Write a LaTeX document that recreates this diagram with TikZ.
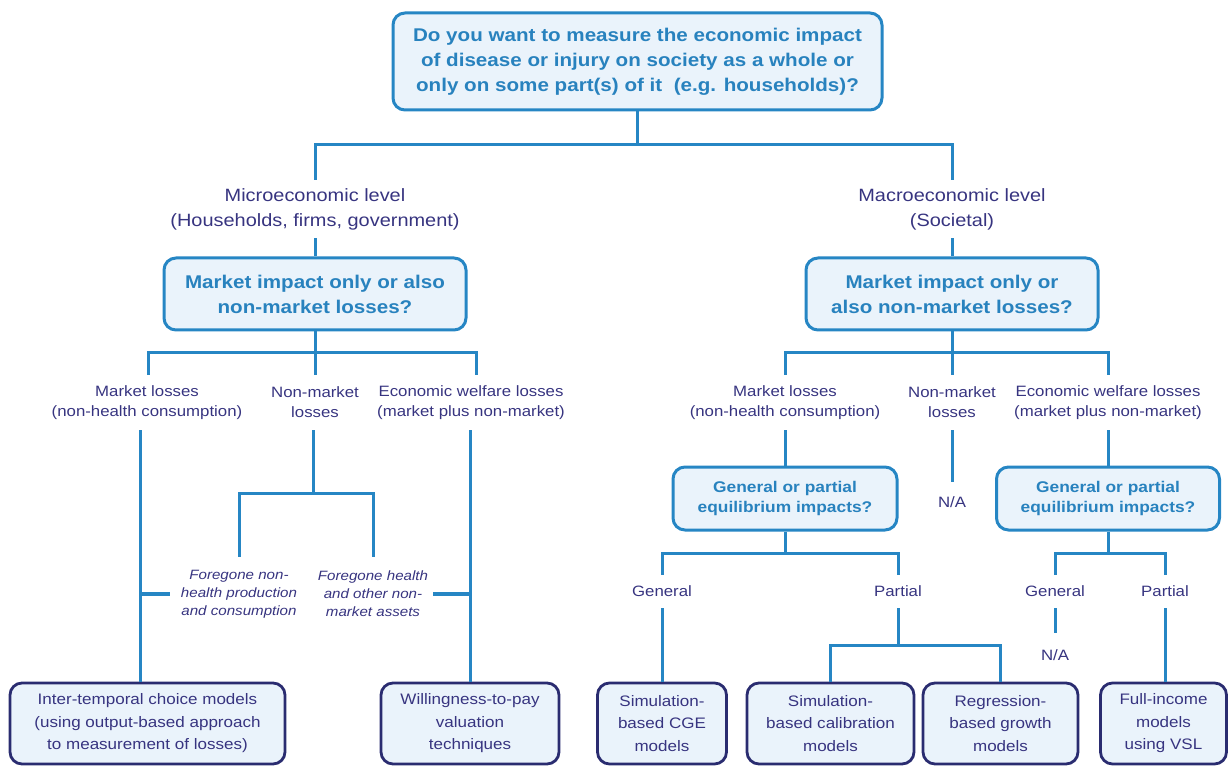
\documentclass[tikz,border=0pt]{standalone}
\usepackage{fontspec}
\setmainfont{Liberation Sans}[FakeStretch=1.12]
\definecolor{lblue}{RGB}{38,134,196}
\definecolor{qtext}{RGB}{40,130,190}
\definecolor{navy}{RGB}{55,52,128}
\definecolor{bnavy}{RGB}{42,44,112}
\definecolor{fillb}{RGB}{234,243,251}
\tikzset{
  qbox/.style={draw=lblue, line width=3pt, rounded corners=12pt, fill=fillb, text=qtext,
    font=\bfseries\fontsize{18.4}{25}\selectfont, align=center, inner sep=0pt},
  gbox/.style={qbox, font=\bfseries\fontsize{15.5}{19.5}\selectfont},
  mbox/.style={draw=bnavy, line width=2.8pt, rounded corners=12pt, fill=fillb, text=navy,
    font=\fontsize{15.2}{22.5}\selectfont, align=center, inner sep=0pt, minimum height=81pt},
  biglbl/.style={text=navy, font=\fontsize{17.8}{25}\selectfont, align=center, inner sep=0pt},
  lbl/.style={text=navy, font=\fontsize{15}{20}\selectfont, align=center, inner sep=0pt},
  ital/.style={text=navy, font=\itshape\fontsize{13.5}{18}\selectfont, align=center, inner sep=0pt},
  conn/.style={draw=lblue, line width=3pt},
  stub/.style={draw=lblue, line width=4pt}
}
\begin{document}
\begin{tikzpicture}[x=1pt,y=-1pt]
\useasboundingbox (0,0) rectangle (1229,767);
% top question
\node[qbox, minimum width=489pt, minimum height=97pt] (top) at (637.5,61.5)
  {Do you want to measure the economic impact\\of disease or injury on society as a whole or\\only on some part(s) of it\ \ (e.g. households)?};
% levels
\node[biglbl, minimum height=58pt] (micro) at (315,209) {Microeconomic level\\(Households, firms, government)};
\node[biglbl, minimum height=58pt] (macro) at (952,209) {Macroeconomic level\\(Societal)};
\node[qbox, minimum width=302pt, minimum height=72pt] (mq) at (315,294) {Market impact only or also\\non-market losses?};
\node[qbox, minimum width=292pt, minimum height=72pt] (Mq) at (952,294) {Market impact only or\\also non-market losses?};
% loss labels
\node[lbl, minimum height=55pt] (ml) at (147,402.5) {Market losses\\(non-health consumption)};
\node[lbl, minimum height=55pt] (mn) at (315,402.5) {Non-market\\losses};
\node[lbl, minimum height=55pt] (mw) at (471,402.5) {Economic welfare losses\\(market plus non-market)};
\node[lbl, minimum height=55pt] (Ml) at (785,402.5) {Market losses\\(non-health consumption)};
\node[lbl, minimum height=55pt] (Mn) at (952,402.5) {Non-market\\losses};
\node[lbl, minimum height=55pt] (Mw) at (1108,402.5) {Economic welfare losses\\(market plus non-market)};
% foregone
\node[ital, minimum height=74pt, minimum width=138pt] (f1) at (239,594) {Foregone non-\\health production\\and consumption};
\node[ital, minimum height=74pt, minimum width=120pt] (f2) at (373,594) {Foregone health\\and other non-\\market assets};
% equilibrium questions
\node[gbox, minimum width=224pt, minimum height=63pt] (g1) at (785,498.5) {General or partial\\equilibrium impacts?};
\node[gbox, minimum width=223pt, minimum height=63pt] (g2) at (1108,498.5) {General or partial\\equilibrium impacts?};
\node[lbl, minimum height=40pt] (na1) at (952,502) {N/A};
\node[lbl, minimum height=33pt] (ge1) at (662,591.5) {General};
\node[lbl, minimum height=33pt] (pa1) at (898,591.5) {Partial};
\node[lbl, minimum height=33pt] (ge2) at (1055,591.5) {General};
\node[lbl, minimum height=33pt] (pa2) at (1165,591.5) {Partial};
\node[lbl, minimum height=44pt] (na2) at (1055,655) {N/A};
% bottom models
\node[mbox, minimum width=275pt] (b1) at (147.5,723.5) {Inter-temporal choice models\\(using output-based approach\\to measurement of losses)};
\node[mbox, minimum width=178pt] (b2) at (470,723.5) {Willingness-to-pay\\valuation\\techniques};
\node[mbox, minimum width=129pt] (b3) at (662,723.5) {Simulation-\\based CGE\\models};
\node[mbox, minimum width=167pt] (b4) at (830.5,723.5) {Simulation-\\based calibration\\models};
\node[mbox, minimum width=155pt] (b5) at (1000.5,723.5) {Regression-\\based growth\\models};
\node[mbox, minimum width=126pt] (b6) at (1163.5,723.5) {Full-income\\models\\using VSL};
% junctions
\coordinate (j0) at (637.5,145);
\coordinate (j1) at (315,352);
\coordinate (j2) at (313,493);
\coordinate (j3) at (952,352);
\coordinate (j4) at (785,553);
\coordinate (j5) at (898,645);
\coordinate (j6) at (1108,553);
% connectors
\draw[conn] (top.south) -- (j0);
\draw[conn] (micro.north) -- (micro.north |- j0) -- (macro.north |- j0) -- (macro.north);
\draw[conn] (micro.south) -- (mq.north);
\draw[conn] (macro.south) -- (Mq.north);
\draw[conn] (mq.south) -- (j1);
\draw[conn] ([xshift=1pt]ml.north) -- ([xshift=1pt]ml.north |- j1) -- ([xshift=5pt]mw.north |- j1) -- ([xshift=5pt]mw.north);
\draw[conn] (mn.north) -- (mn.north |- j1);
\draw[conn] ([xshift=-7pt]ml.south) -- ([xshift=-7pt]ml.south |- b1.north);
\draw[conn] ([xshift=-1pt]mw.south) -- ([xshift=-1pt]mw.south |- b2.north);
\draw[conn] ([xshift=-2pt]mn.south) -- (j2);
\draw[conn] (f1.north) -- (f1.north |- j2) -- (f2.north |- j2) -- (f2.north);
\draw[stub] (f1.west) -- ([xshift=-7pt]ml.south |- f1.west);
\draw[stub] (f2.east) -- ([xshift=-1pt]mw.south |- f2.east);
\draw[conn] (Mq.south) -- (j3);
\draw[conn] (Ml.north) -- (Ml.north |- j3) -- (Mw.north |- j3) -- (Mw.north);
\draw[conn] (Mn.north) -- (Mn.north |- j3);
\draw[conn] (Ml.south) -- (g1.north);
\draw[conn] (Mn.south) -- (na1.north);
\draw[conn] (Mw.south) -- (g2.north);
\draw[conn] (g1.south) -- (j4);
\draw[conn] (ge1.north) -- (ge1.north |- j4) -- (pa1.north |- j4) -- (pa1.north);
\draw[conn] (ge1.south) -- (b3.north);
\draw[conn] (pa1.south) -- (j5);
\draw[conn] (b4.north) -- (b4.north |- j5) -- (b5.north |- j5) -- (b5.north);
\draw[conn] (g2.south) -- (j6);
\draw[conn] (ge2.north) -- (ge2.north |- j6) -- (pa2.north |- j6) -- (pa2.north);
\draw[conn] (ge2.south) -- (na2.north);
\draw[conn] (pa2.south) -- (pa2.south |- b6.north);
\end{tikzpicture}
\end{document}
